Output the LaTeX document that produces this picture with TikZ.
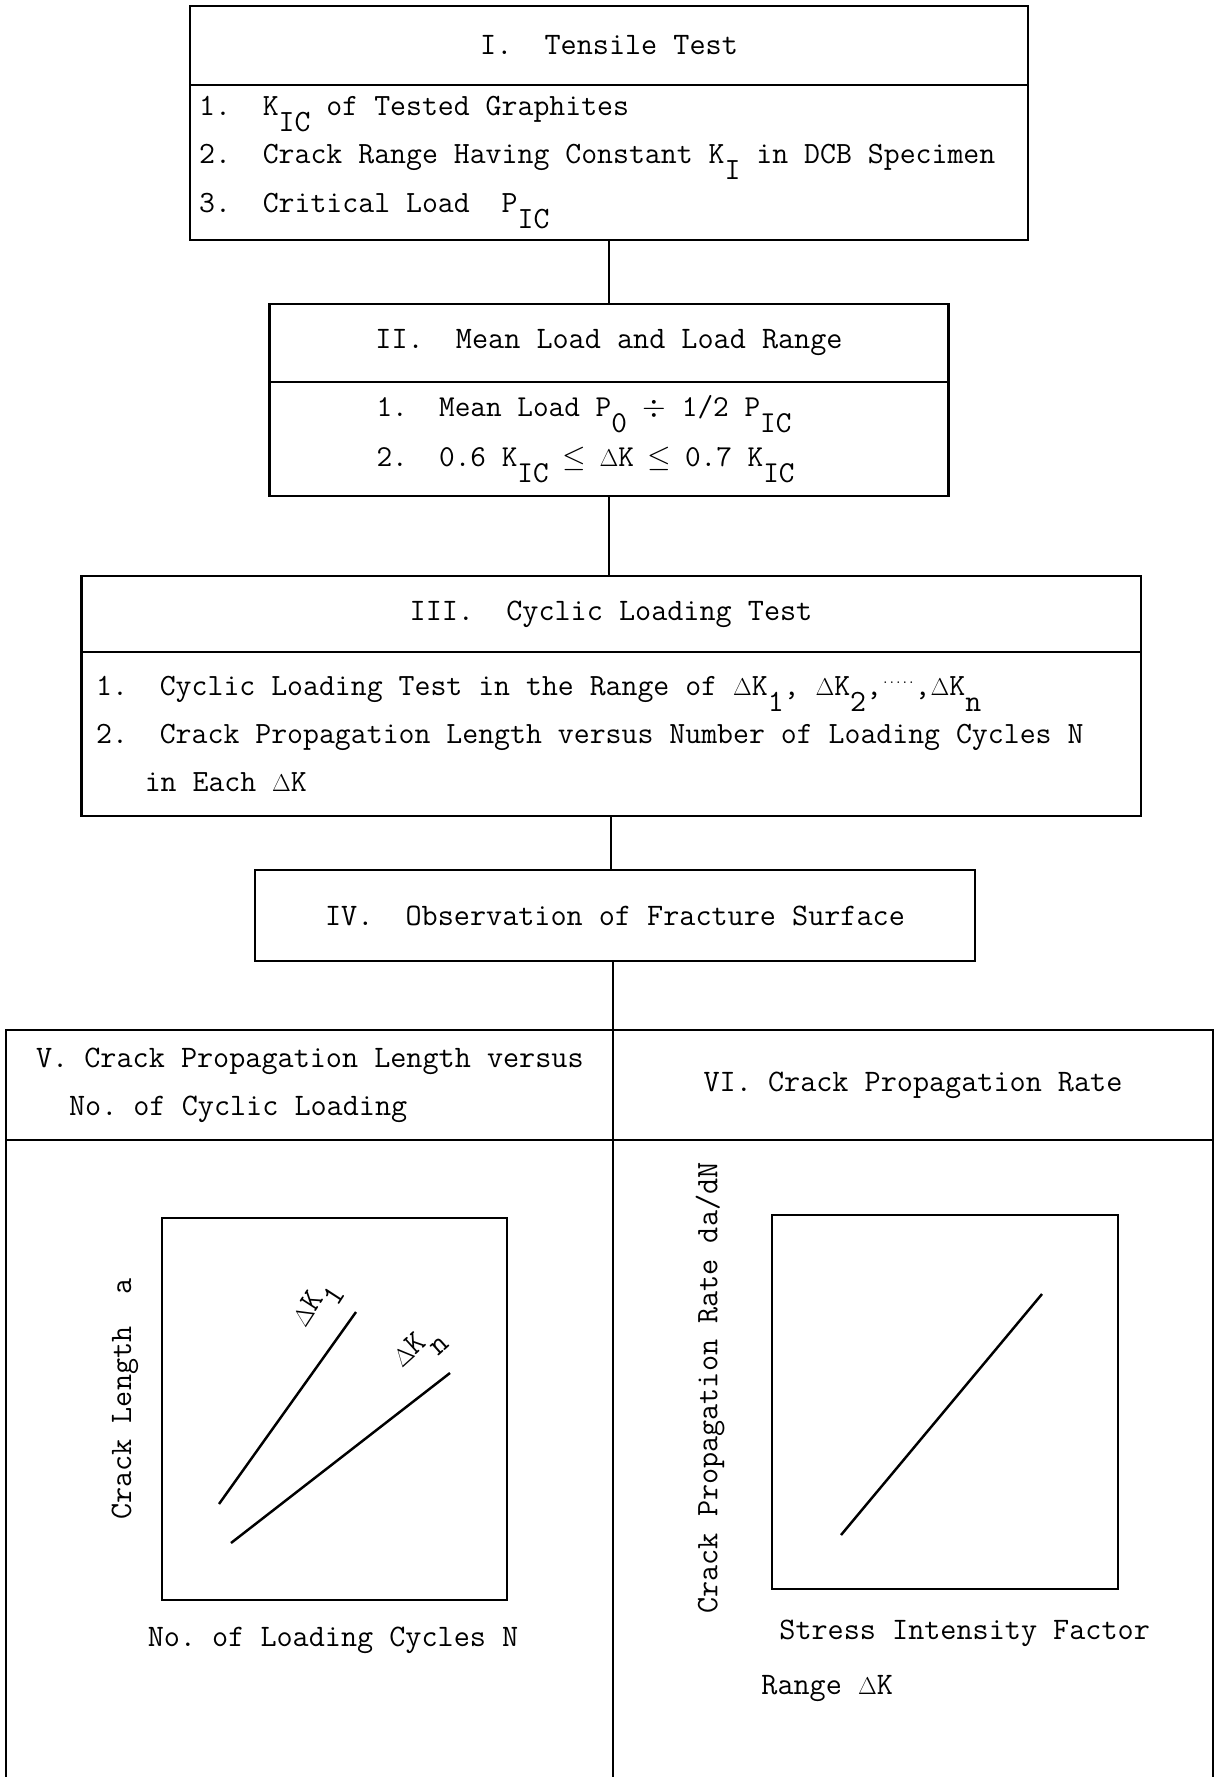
\documentclass[tikz,border=0pt]{standalone}
\usepackage{amsmath,amssymb}
\usepackage{graphicx}
\usepackage{tikz}
\usetikzlibrary{positioning}
\frenchspacing
\lineskiplimit=-50pt
\newcommand{\lowsub}[1]{\raisebox{-1.2ex}{#1}}
\newcommand{\dk}{\scalebox{0.8}{$\Delta$}K}

\begin{document}
\begin{tikzpicture}[x=0.02cm, y=-0.02cm, line width=1.6pt,
	font=\fontsize{17.8}{27.5}\selectfont\ttfamily,
	box/.style={draw, rectangle, outer sep=0pt, inner sep=0pt, align=center},
	body/.style={align=flush left, font=\fontsize{17.6}{27.5}\selectfont\ttfamily},
	lbl/.style={inner sep=0pt}]
	\path[use as bounding box] (0,0) rectangle (1217,1777);
	\clip (0,0) rectangle (1217,1777);
	\node[box, minimum width=16.76cm, minimum height=1.58cm] (t1) at (609,45.5) {I.~~Tensile Test};
	\node[box, body, minimum width=16.76cm, minimum height=3.1cm, text width=16.4cm, below=0pt of t1] (b1)
	{1.~~K\lowsub{IC} of Tested Graphites\\2.~~Crack Range Having Constant K\lowsub{I} in DCB Specimen\\3.~~Critical Load~~P\lowsub{IC}};
	\node[box, minimum width=13.58cm, minimum height=1.56cm] (t2) at (609,343) {II.~~Mean Load and Load Range};
	\node[box, body, minimum width=13.58cm, minimum height=2.28cm, text width=9.3cm, below=0pt of t2,
		font=\fontsize{17.3}{28.5}\selectfont\ttfamily] (b2)
	{1.~~Mean Load P\lowsub{0} $\div$ 1/2 P\lowsub{IC}\\2.~~0.6 K\lowsub{IC}\hspace{0.45em}$\leq$\hspace{0.45em}\dk\hspace{0.45em}$\leq$\hspace{0.45em}0.7 K\lowsub{IC}};
	\node[box, minimum width=21.2cm, minimum height=1.52cm] (t3) at (611,614) {III.~~Cyclic Loading Test};
	\node[box, body, minimum width=21.2cm, minimum height=3.28cm, text width=20.6cm, below=0pt of t3] (b3)
	{1.~~Cyclic Loading Test in the Range of \dk\lowsub{1}, \dk\lowsub{2},\raisebox{0.9ex}{\scriptsize.....},\dk\lowsub{n}\\2.~~Crack Propagation Length versus Number of Loading Cycles N\\\hspace*{1.575em}in Each \dk};
	\node[box, minimum width=14.4cm, minimum height=1.82cm] (t4) at (615,915.5) {IV.~~Observation of Fracture Surface};
	\node[box, minimum width=12.14cm, minimum height=2.2cm, text width=11.6cm, align=flush left] (t5) at (309.5,1085)
	{\hspace*{0.33cm}V. Crack Propagation Length versus\\\hspace*{0.99cm}No. of Cyclic Loading};
	\node[box, minimum width=12cm, minimum height=2.2cm] (t6) at (913,1085) {VI. Crack Propagation Rate};
	\node[box, minimum width=12.14cm, minimum height=14cm, below=0pt of t5] (b5) {};
	\node[box, minimum width=12cm, minimum height=14cm, below=0pt of t6] (b6) {};
	\draw (b1.south) -- (t2.north);
	\draw (b2.south) -- (b2.south |- t3.north);
	\draw (b3.south) -- (b3.south |- t4.north);
	\draw (t5.north east |- t4.south) -- (t5.north east);
	\node[box, minimum width=6.9cm, minimum height=7.64cm] (p5) at (334.5,1409) {};
	\draw[line width=1.4pt] (219,1504) -- (356,1312);
	\draw[line width=1.4pt] (231,1543) -- (450,1373);
	\node[lbl, rotate=57] (k1) at (318,1306) {\dk\lowsub{1}};
	\node[lbl, rotate=42] (kn) at (420,1350) {\dk\lowsub{n}};
	\node[lbl, rotate=90] (ya) at (125,1399) {Crack Length~~a};
	\node[lbl] (xa) at (333,1640) {No. of Loading Cycles N};
	\node[box, minimum width=6.92cm, minimum height=7.48cm] (p6) at (945,1402) {};
	\draw[line width=1.4pt] (841,1535) -- (1042,1294);
	\node[lbl, rotate=90] (yb) at (710,1388) {Crack Propagation Rate da/dN};
	\node[lbl, anchor=west] (xb) at (778,1633) {Stress Intensity Factor};
	\node[lbl, anchor=west] (xc) at (760,1689) {Range \dk};
\end{tikzpicture}
\end{document}
